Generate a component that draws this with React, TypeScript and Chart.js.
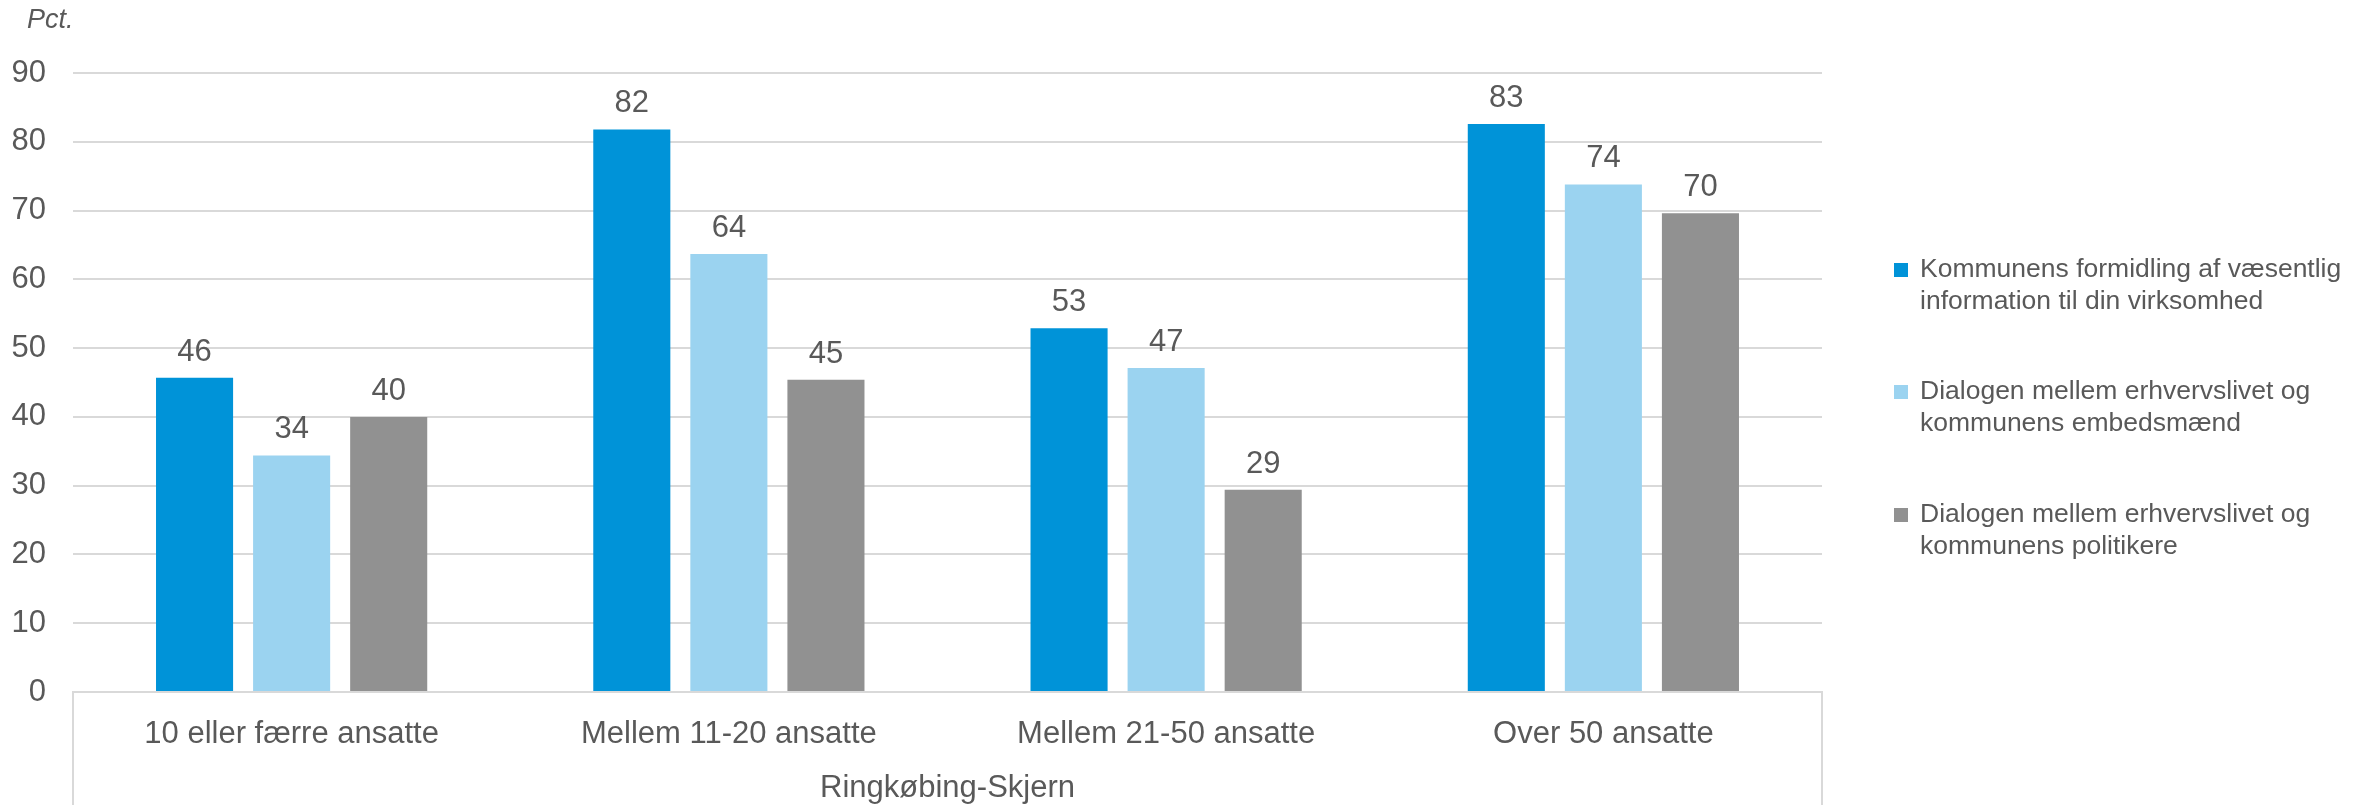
import React, { useEffect, useRef } from "react";
import { Chart, registerables } from "chart.js";

Chart.register(...registerables);

const categories = ["10 eller færre ansatte", "Mellem 11-20 ansatte", "Mellem 21-50 ansatte", "Over 50 ansatte"];
const groupLabel = "Ringkøbing-Skjern";
const seriesNames = [
  ["Kommunens formidling af væsentlig", "information til din virksomhed"],
  ["Dialogen mellem erhvervslivet og", "kommunens embedsmænd"],
  ["Dialogen mellem erhvervslivet og", "kommunens politikere"],
];
const seriesColors = ["#0093D8", "#9BD3F0", "#919191"];
const formidling = [45.7, 81.8, 52.9, 82.6];
const embedsmaend = [34.4, 63.7, 47.1, 73.8];
const politikere = [40.0, 45.4, 29.4, 69.6];
const yTicks = [0, 10, 20, 30, 40, 50, 60, 70, 80, 90];
const yUnit = "Pct.";

const TEXT = "#595959";
const FONT = "'Liberation Sans', Arial, sans-serif";

export default function App() {
  const ref = useRef<HTMLCanvasElement | null>(null);
  useEffect(() => {
    document.body.style.margin = "0";
    const canvas = ref.current!;
    const overlay = {
      id: "overlay",
      afterDatasetsDraw(chart: any) {
        const ctx = chart.ctx;
        const area = chart.chartArea;
        ctx.save();
        // data labels
        ctx.fillStyle = TEXT;
        ctx.font = `31px ${FONT}`;
        ctx.textAlign = "center";
        ctx.textBaseline = "alphabetic";
        chart.data.datasets.forEach((ds: any, i: number) => {
          const meta = chart.getDatasetMeta(i);
          meta.data.forEach((bar: any, j: number) => {
            ctx.fillText(String(Math.round(ds.data[j])), bar.x, bar.y - 17);
          });
        });
        // unit label
        ctx.font = `italic 27px ${FONT}`;
        ctx.textAlign = "left";
        ctx.fillText(yUnit, 27, 28);
        // axis box lines
        ctx.strokeStyle = "#D9D9D9";
        ctx.lineWidth = 2;
        ctx.beginPath();
        ctx.moveTo(area.left, area.bottom);
        ctx.lineTo(area.left, chart.height);
        ctx.moveTo(area.right, area.bottom);
        ctx.lineTo(area.right, chart.height);
        ctx.stroke();
        // group label
        ctx.fillStyle = TEXT;
        ctx.font = `31px ${FONT}`;
        ctx.textAlign = "center";
        ctx.fillText(groupLabel, (area.left + area.right) / 2, 797);
        // legend
        ctx.font = `26.5px ${FONT}`;
        ctx.textAlign = "left";
        ctx.textBaseline = "middle";
        const centers = [270, 392, 515];
        seriesNames.forEach((lines, i) => {
          const y0 = centers[i];
          ctx.fillStyle = seriesColors[i];
          ctx.fillRect(1894, y0 - 7, 14, 14);
          ctx.fillStyle = TEXT;
          lines.forEach((ln, k) => ctx.fillText(ln, 1920, y0 + k * 32));
        });
        ctx.restore();
      },
    };
    const chart = new Chart(canvas, {
      type: "bar",
      data: {
        labels: categories,
        datasets: [
          { label: seriesNames[0].join(" "), data: formidling, backgroundColor: seriesColors[0] },
          { label: seriesNames[1].join(" "), data: embedsmaend, backgroundColor: seriesColors[1] },
          { label: seriesNames[2].join(" "), data: politikere, backgroundColor: seriesColors[2] },
        ],
      },
      options: {
        animation: false,
        responsive: false,
        maintainAspectRatio: false,
        layout: { padding: { left: 0, right: 549, top: 73, bottom: 0 } },
        datasets: { bar: { categoryPercentage: 0.666, barPercentage: 0.794 } },
        plugins: { legend: { display: false }, tooltip: { enabled: false } },
        scales: {
          x: {
            grid: { display: false, drawTicks: false },
            border: { display: true, color: "#D9D9D9", width: 2 },
            ticks: { color: TEXT, font: { family: FONT, size: 31 }, padding: 24, maxRotation: 0, autoSkip: false },
            afterFit(scale: any) { scale.height = 805 - 692; },
          },
          y: {
            min: 0,
            max: 90,
            afterBuildTicks(scale: any) { scale.ticks = yTicks.map((v) => ({ value: v })); },
            grid: { color: "#D9D9D9", lineWidth: 2, drawTicks: false },
            border: { display: false },
            ticks: { color: TEXT, font: { family: FONT, size: 31 }, padding: 27 },
            afterFit(scale: any) { scale.width = 73; },
          },
        },
      },
      plugins: [overlay],
    } as any);
    return () => chart.destroy();
  }, []);
  return (
    <div style={{ width: 2371, height: 805 }}>
      <canvas ref={ref} width={2371} height={805} style={{ width: 2371, height: 805, display: "block" }} />
    </div>
  );
}
